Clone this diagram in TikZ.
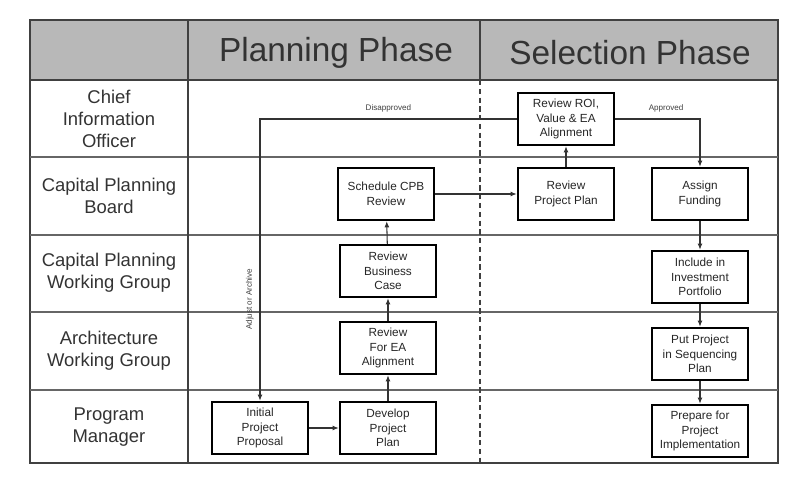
\documentclass[tikz,border=0pt]{standalone}
\usepackage{fontspec}
\setmainfont{Liberation Sans}
\usepackage{tikz}
\usetikzlibrary{arrows.meta}

\begin{document}
\begin{tikzpicture}[x=0.02cm, y=-0.02cm,
    task/.style={draw, line width=1.4pt, minimum width=1.92cm, minimum height=1.04cm,
                 align=center, inner sep=1pt, font=\fontsize{6.7}{8.4}\selectfont, text=black!85},
    lane/.style={align=center, font=\fontsize{10.5}{12.5}\selectfont, text=black!80},
    phase/.style={font=\fontsize{19}{22}\selectfont, text=black!80},
    flow/.style={-{Latex[length=3.5pt,width=2.8pt]}, line width=0.6pt, black!80},
    tag/.style={font=\fontsize{4.6}{5.5}\selectfont, text=black!75}]
                \useasboundingbox (0,0) rectangle (788,479);
                
                % Header
                \fill[black!28] (30,20) rectangle (778,80);
                \draw[black!75, line width=1.5pt] (30,20) rectangle (778,463);
                \draw[black!75, line width=0.8pt] (30,80) -- (778,80);
                \node[phase] (plan) at (336,53) {Planning Phase};
                \node[phase] (sel) at (630,53) {Selection Phase};
                
                % Lanes
                \foreach \y in {157,235,312,390}
                    \draw[black!60, line width=0.6pt] (30,\y) -- (778,\y);
                \draw[black!75, line width=0.8pt] (188,20) -- (188,463);
                \draw[black!75, line width=0.8pt] (480,20) -- (480,80);
                \draw[black!75, line width=1pt, dashed, dash pattern=on 3pt off 2pt] (480,80) -- (480,463);
                \node[lane] (cio) at (109,119) {Chief\\Information\\Officer};
                \node[lane] (cpbd) at (109,196) {Capital Planning\\Board};
                \node[lane] (cpwg) at (109,273) {Capital Planning\\Working Group};
                \node[lane] (awg) at (109,351) {Architecture\\Working Group};
                \node[lane] (pm) at (109,427) {Program\\Manager};
                
                % Tasks
                \node[task] (roi) at (566,119) {Review ROI,\\Value \& EA\\Alignment};
                \node[task] (cpb) at (386,194) {Schedule CPB\\Review};
                \node[task] (rpp) at (566,194) {Review\\Project Plan};
                \node[task] (fund) at (700,194) {Assign\\Funding};
                \node[task] (bcase) at (388,271) {Review\\Business\\Case};
                \node[task] (port) at (700,277) {Include in\\Investment\\Portfolio};
                \node[task] (ea) at (388,348) {Review\\For EA\\Alignment};
                \node[task] (seq) at (700,354) {Put Project\\in Sequencing\\Plan};
                \node[task] (init) at (260,428) {Initial\\Project\\Proposal};
                \node[task] (dev) at (388,428) {Develop\\Project\\Plan};
                \node[task] (prep) at (700,431) {Prepare for\\Project\\Implementation};
                
                % Flow
                \draw[flow] (init) -- (dev);
                \draw[flow] (dev) -- (ea);
                \draw[flow] (ea) -- (bcase);
                \draw[flow] (bcase) -- (cpb);
                \draw[flow] (cpb) -- (rpp);
                \draw[flow] (rpp) -- (roi);
                \draw[flow] (roi.east) -| node[tag, pos=0.3, above] {Approved} (fund);
                \draw[flow] (roi.west) -| node[tag, pos=0.25, above] {Disapproved}
                    node[tag, pos=0.82, rotate=90, above] {Adjust or Archive} (init);
                \draw[flow] (fund) -- (port);
                \draw[flow] (port) -- (seq);
                \draw[flow] (seq) -- (prep);
            \end{tikzpicture}
\end{document}
